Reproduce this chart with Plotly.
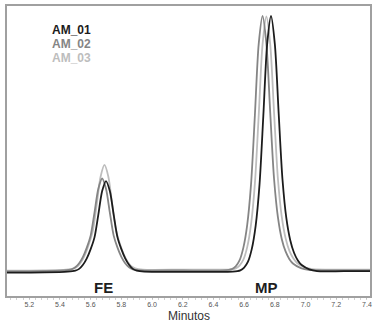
import plotly.graph_objects as go

# ---- data (minutes, relative intensity) ----
am01_x = [5.055, 5.30, 5.45, 5.50, 5.525, 5.55, 5.575, 5.60, 5.625, 5.65, 5.675, 5.70,
          5.725, 5.75, 5.775, 5.80, 5.825, 5.85, 5.875, 5.90, 5.95, 6.20, 6.40,
          6.525, 6.575, 6.60, 6.625, 6.65, 6.675, 6.70, 6.725, 6.75, 6.775,
          6.80, 6.825, 6.85, 6.875, 6.90, 6.925, 6.95, 6.975, 7.025, 7.075, 7.25, 7.42]
am01_y = [-0.3, -0.2, 0.1, 0.5, 1.2, 2.8, 5.3, 8.9, 13.5, 22.4, 31.6, 35.5,
          31.6, 22.4, 13.5, 8.9, 5.3, 2.8, 1.2, 0.5, 0.1, 0.0, 0.0,
          0.1, 0.6, 1.7, 4.0, 9.0, 18.0, 34.0, 61.0, 89.0, 100.0,
          89.0, 62.0, 36.0, 21.0, 12.5, 7.5, 4.5, 2.7, 1.0, 0.3, 0.3, 0.3]

am02_x = [5.055, 5.28, 5.425, 5.475, 5.50, 5.525, 5.55, 5.575, 5.60, 5.625, 5.65, 5.675,
          5.70, 5.725, 5.75, 5.775, 5.80, 5.825, 5.85, 5.875, 5.925, 6.20, 6.35,
          6.47, 6.52, 6.545, 6.57, 6.595, 6.62, 6.645, 6.67, 6.695, 6.72,
          6.745, 6.77, 6.795, 6.82, 6.845, 6.87, 6.895, 6.92, 6.97, 7.02, 7.20, 7.42]
am02_y = [0.2, 0.3, 0.6, 1.0, 1.8, 3.4, 5.9, 9.5, 14.2, 23.2, 32.5, 36.5,
          32.5, 23.2, 14.2, 9.5, 5.9, 3.4, 1.8, 1.0, 0.6, 0.6, 0.5,
          0.6, 1.1, 2.2, 4.5, 9.5, 18.4, 34.3, 61.2, 89.1, 100.0,
          89.1, 62.2, 36.3, 21.4, 12.9, 8.0, 5.0, 3.2, 1.5, 0.8, 0.6, 0.6]

am03_x = [5.055, 5.29, 5.44, 5.49, 5.515, 5.54, 5.565, 5.59, 5.615, 5.64, 5.665, 5.69,
          5.715, 5.74, 5.765, 5.79, 5.815, 5.84, 5.865, 5.89, 5.94, 6.20, 6.37,
          6.495, 6.545, 6.57, 6.595, 6.62, 6.645, 6.67, 6.695, 6.72, 6.745,
          6.77, 6.795, 6.82, 6.845, 6.87, 6.895, 6.92, 6.945, 6.995, 7.045, 7.22, 7.42]
am03_y = [0.5, 0.6, 0.9, 1.4, 2.2, 4.1, 7.0, 11.1, 16.4, 26.6, 37.3, 41.8,
          37.3, 26.6, 16.4, 11.1, 7.0, 4.1, 2.2, 1.4, 0.9, 0.9, 0.9,
          0.9, 1.4, 2.5, 4.8, 9.7, 18.6, 34.5, 61.2, 88.9, 99.8,
          88.9, 62.2, 36.4, 21.6, 13.2, 8.2, 5.3, 3.5, 1.8, 1.1, 0.9, 0.9]

series_names = ["AM_01", "AM_02", "AM_03"]
series_colors = ["#1c1c1c", "#858585", "#bdbdbd"]
tick_vals = [5.2, 5.4, 5.6, 5.8, 6.0, 6.2, 6.4, 6.6, 6.8, 7.0, 7.2, 7.4]
tick_text = ["5.2", "5.4", "5.6", "5.8", "6.0", "6.2", "6.4", "6.6", "6.8", "7.0", "7.2", "7.4"]
peak_labels = ["FE", "MP"]
peak_label_x = [5.685, 6.745]

fig = go.Figure()
data = [(am01_x, am01_y), (am02_x, am02_y), (am03_x, am03_y)]
for i in [2, 1, 0]:
    xs, ys = data[i]
    fig.add_trace(go.Scatter(x=xs, y=ys, mode="lines", name=series_names[i],
                             line=dict(color=series_colors[i], width=1.8,
                                       shape="spline", smoothing=0.8),
                             showlegend=False, hoverinfo="skip"))

fig.update_layout(
    width=377, height=328,
    margin=dict(l=7, r=7, t=6, b=32, autoexpand=False),
    paper_bgcolor="white", plot_bgcolor="white",
    xaxis=dict(range=[5.055, 7.42], tickvals=tick_vals, ticktext=tick_text,
               showgrid=False, zeroline=False, showline=True, mirror=True,
               linecolor="#a0a0a0", linewidth=1.5,
               ticks="outside", ticklen=1, tickcolor="#c0c0c0",
               tickfont=dict(family="Liberation Sans, Arial", size=7, color="#555555"),
               minor=dict(ticks="outside", ticklen=2, dtick=0.04, tickcolor="#d0d0d0")),
    yaxis=dict(range=[-9.4, 103.9], showticklabels=False, ticks="",
               showgrid=False, zeroline=False, showline=True, mirror=True,
               linecolor="#a0a0a0", linewidth=1.5),
)

for i, name in enumerate(series_names):
    fig.add_annotation(x=(50 - 7) / 363, y=1 - (30 + 14 * i - 6) / 290, xref="paper", yref="paper",
                       text=f"<b>{name}</b>", showarrow=False, xanchor="left", yanchor="middle",
                       font=dict(family="Liberation Sans, Arial", size=12, color=series_colors[i]))

for lbl, xv in zip(peak_labels, peak_label_x):
    fig.add_annotation(x=xv, y=-6.0, xref="x", yref="y", text=f"<b>{lbl}</b>", showarrow=False,
                       xanchor="center", yanchor="middle",
                       font=dict(family="Liberation Sans, Arial", size=15, color="#1e1e1e"))

fig.add_annotation(x=0.5, y=-(316 - 296) / 290, xref="paper", yref="paper", text="Minutos",
                   showarrow=False, xanchor="center", yanchor="middle",
                   font=dict(family="Liberation Sans, Arial", size=12, color="#333333"))

fig.write_html("out.html", config={"displayModeBar": False},
               post_script="document.body.style.margin='0';document.body.style.padding='0';")
